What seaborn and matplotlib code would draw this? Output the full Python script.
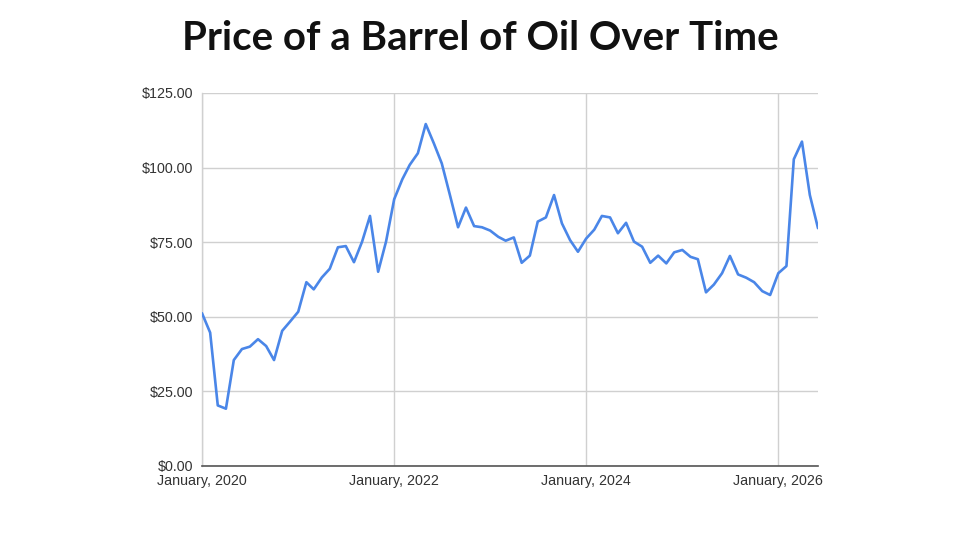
import matplotlib
matplotlib.use('Agg')
import matplotlib.pyplot as plt
import matplotlib.dates as mdates
from matplotlib.ticker import FuncFormatter
import pandas as pd
import seaborn as sns

# === Data (monthly) ===
START_MONTH = "2020-01-01"
PRICES = [
    51.2, 44.7, 20.3, 19.2, 35.5, 39.2, 40.0, 42.5, 40.2, 35.5, 45.3, 48.4,
    51.7, 61.6, 59.2, 63.2, 66.1, 73.3, 73.7, 68.3, 75.2, 83.8, 65.1, 75.2,
    89.4, 96.1, 100.9, 104.8, 114.6, 108.1, 101.4, 90.8, 80.0, 86.6, 80.4, 80.0,
    78.9, 76.8, 75.5, 76.6, 68.1, 70.5, 81.9, 83.3, 90.8, 81.3, 75.7, 71.8,
    76.2, 79.2, 83.8, 83.3, 78.0, 81.5, 75.2, 73.5, 68.1, 70.5, 67.9, 71.6,
    72.4, 70.1, 69.3, 58.2, 60.8, 64.6, 70.4, 64.2, 63.1, 61.6, 58.6, 57.3,
    64.6, 67.0, 102.8, 108.7, 90.8, 79.7,
]
Y_TICKS = [0, 25, 50, 75, 100, 125]
X_TICK_YEARS = [2020, 2022, 2024, 2026]
TITLE = "Price of a Barrel of Oil Over Time"

months = pd.date_range(START_MONTH, periods=len(PRICES), freq="MS")
df = pd.DataFrame({"month": months, "price": PRICES})

sns.set_style("white")
plt.rcParams['font.family'] = ['Liberation Sans', 'DejaVu Sans']

fig = plt.figure(figsize=(9.6, 5.4), dpi=100)
ax = fig.add_axes([202 / 960, 74 / 540, 616 / 960, 373 / 540])

sns.lineplot(data=df, x="month", y="price", ax=ax, color="#4a86e8",
             linewidth=1.9, zorder=3)

ax.set_xlim(months[0], months[-1])
ax.set_ylim(0, 125)
ax.set_yticks(Y_TICKS)
ax.yaxis.set_major_formatter(FuncFormatter(lambda v, p: f"${v:,.2f}"))
ax.set_xticks([pd.Timestamp(f"{y}-01-01") for y in X_TICK_YEARS])
ax.xaxis.set_major_formatter(mdates.DateFormatter("%B, %Y"))

ax.grid(True, color="#d0d0d0", linewidth=1.0, zorder=0)
for side in ["top", "right"]:
    ax.spines[side].set_visible(False)
ax.spines["left"].set_color("#d0d0d0")
ax.spines["left"].set_linewidth(1.0)
ax.spines["bottom"].set_color("#555555")
ax.spines["bottom"].set_linewidth(1.2)
ax.tick_params(axis="both", length=0, labelsize=10.3, labelcolor="#333333")
ax.tick_params(axis="x", pad=6)
ax.tick_params(axis="y", pad=6)
ax.set_xlabel("")
ax.set_ylabel("")

fig.text(0.5, 1 - 38 / 540, TITLE, ha="center", va="center", fontsize=29,
         fontweight="bold", family=["Lato", "DejaVu Sans"], color="#111111")

fig.savefig("out.png", dpi=100)
plt.close(fig)
